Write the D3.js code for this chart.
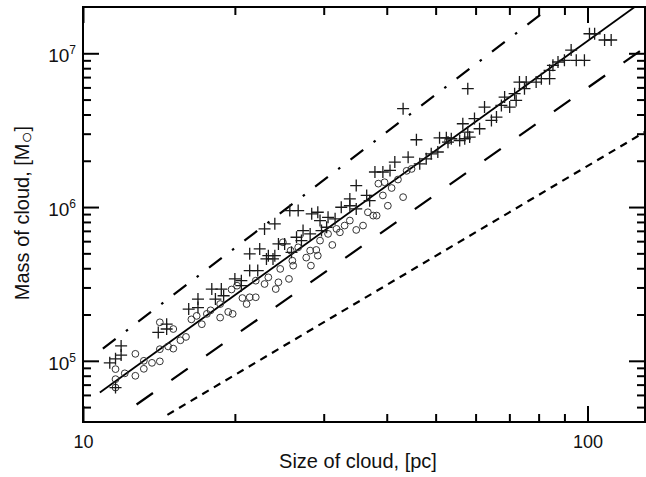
<!DOCTYPE html>
<html>
<head>
<meta charset="utf-8">
<script src="https://cdnjs.cloudflare.com/ajax/libs/d3/7.8.5/d3.min.js"></script>
<style>
  body { margin: 0; background: #fff; }
  text { font-family: "Liberation Sans", Arial, sans-serif; fill: #111; }
</style>
</head>
<body>
<div id="chart"></div>
<script>

// size of cloud [pc], mass of cloud [Msun]
var crossData = [
  [11.3, 9.7e4], [11.6, 1.03e5], [11.9, 1.25e5], [11.9, 1.09e5], [11.6, 6.7e4],
  [14.1, 1.53e5], [14.65, 1.73e5], [14.65, 1.61e5], [16.2, 2.17e5], [16.9, 2.52e5],
  [16.9, 2.22e5], [18.0, 2.93e5], [18.3, 2.52e5], [18.8, 2.93e5], [19.0, 2.65e5],
  [20.0, 3.41e5], [20.6, 3.32e5], [20.6, 3.08e5], [21.4, 3.86e5], [22.2, 3.86e5],
  [21.4, 4.96e5], [22.4, 5.34e5], [23.1, 4.6e5], [23.8, 4.6e5], [22.9, 7.21e5],
  [24.0, 7.78e5], [24.4, 5.76e5], [25.1, 5.76e5], [26.5, 6.36e5], [25.7, 9.49e5],
  [26.7, 9.49e5], [28.4, 9.03e5], [29.2, 9.25e5], [29.5, 8.17e5], [30.6, 8.58e5],
  [30.4, 7.39e5], [31.6, 8.38e5], [32.5, 9.97e5], [33.8, 1.13e6], [33.8, 1.02e6],
  [34.8, 9.73e5], [34.8, 1.38e6], [36.5, 1.19e6], [37.0, 1.10e6], [37.9, 1.69e6],
  [39.3, 1.69e6], [27.3, 7.03e5], [28.2, 6.69e5], [27.1, 6.05e5], [23.3, 4.83e5],
  [24.0, 4.83e5], [25.9, 5.08e5], [29.7, 7.03e5], [43.1, 4.36e6], [57.9, 5.89e6],
  [45.8, 2.74e6], [44.1, 2.11e6], [41.5, 1.96e6], [40.6, 1.73e6], [47.9, 2.06e6],
  [49.0, 2.22e6], [50.5, 2.28e6], [50.9, 2.82e6], [52.5, 2.82e6], [53.7, 2.78e6],
  [55.8, 2.71e6], [57.1, 2.78e6], [56.6, 3.48e6], [59.7, 3.76e6], [57.9, 3.07e6],
  [46.5, 1.91e6], [61.1, 3.23e6], [62.5, 4.47e6], [64.5, 3.66e6], [66.0, 3.85e6],
  [67.5, 4.58e6], [68.5, 5.19e6], [70.1, 4.47e6], [72.2, 4.94e6], [71.7, 5.46e6],
  [73.3, 6.5e6], [75.6, 6.5e6], [75.0, 5.89e6], [79.1, 6.5e6], [81.0, 6.84e6],
  [84.1, 6.84e6], [84.1, 7.75e6], [85.4, 8.35e6], [87.4, 8.78e6], [90.0, 9.0e6],
  [92.8, 1.05e7], [95.0, 9.0e6], [98.6, 9.0e6], [100.9, 1.34e7], [103.3, 1.34e7],
  [108.1, 1.22e7], [111.4, 1.22e7], [58.4, 2.85e6], [52.9, 2.64e6]
];

var circleData = [
  [11.6, 8.83e4], [11.6, 7.6e4], [11.6, 6.7e4], [12.1, 8.29e4], [12.7, 1.11e5],
  [12.7, 7.99e4], [13.2, 1.0e5], [13.2, 8.87e4], [13.7, 9.7e4], [14.2, 9.92e4],
  [14.2, 1.78e5], [14.2, 1.19e5], [14.75, 1.24e5], [15.1, 1.61e5], [15.1, 1.2e5],
  [15.6, 1.36e5], [16.0, 1.43e5], [16.4, 1.86e5], [16.8, 1.96e5], [17.2, 1.73e5],
  [17.6, 2.02e5], [17.9, 2.13e5], [18.7, 1.91e5], [18.7, 2.34e5], [19.4, 2.08e5],
  [19.8, 2.02e5], [19.7, 2.91e5], [20.2, 3.08e5], [20.7, 2.56e5], [21.1, 2.34e5],
  [21.4, 2.59e5], [22.0, 2.59e5], [22.0, 3.32e5], [22.9, 3.16e5], [23.3, 3.49e5],
  [24.1, 2.93e5], [24.4, 3.24e5], [24.6, 3.96e5], [25.6, 3.41e5], [26.0, 4.48e5],
  [26.1, 4.16e5], [24.9, 5.9e5], [25.8, 5.21e5], [26.7, 5.47e5], [28.2, 5.21e5],
  [29.0, 5.26e5], [29.2, 4.83e5], [29.5, 6.05e5], [30.6, 6.69e5], [31.2, 5.67e5],
  [31.8, 7.21e5], [32.3, 6.85e5], [33.0, 7.58e5], [33.8, 8.17e5], [34.8, 7.1e5],
  [35.9, 7.58e5], [36.7, 9.25e5], [37.6, 8.8e5], [38.2, 8.8e5], [38.5, 1.42e6],
  [39.3, 1.19e6], [40.2, 1.02e6], [39.6, 1.45e6], [40.9, 1.33e6], [42.1, 1.51e6],
  [43.8, 1.72e6], [44.8, 1.77e6], [52.9, 2.71e6], [43.1, 1.16e6], [27.7, 4.69e5],
  [28.3, 4.16e5]
];

// fitted relations, end points
var fitSolid = [[10.8, 6.22e4], [124, 2.0e7]];
var fitDashDot = [[10.95, 1.2e5], [84.5, 2.0e7]];
var fitLongDash = [[12.77, 5.2e4], [130, 1.09e7]];
var fitShortDash = [[14.7, 4.45e4], [130, 3.08e6]];

var xMajorTicks = [10, 100];
var xMinorTicks = [20, 30, 40, 50, 60, 70, 80, 90];
var yMajorTicks = [1e5, 1e6, 1e7];
var yMajorExponents = ["5", "6", "7"];
var yMinorTicks = [5e4, 6e4, 7e4, 8e4, 9e4,
  2e5, 3e5, 4e5, 5e5, 6e5, 7e5, 8e5, 9e5,
  2e6, 3e6, 4e6, 5e6, 6e6, 7e6, 8e6, 9e6];

var svgWidth = 646;
var svgHeight = 477;

var margin = { top: 7, right: 1, bottom: 55, left: 83 };
var width = svgWidth - margin.left - margin.right;
var height = svgHeight - margin.top - margin.bottom;

var svg = d3.select("#chart")
  .append("svg")
  .attr("width", svgWidth)
  .attr("height", svgHeight);

var chartGroup = svg.append("g")
  .attr("transform", `translate(${margin.left}, ${margin.top})`);

var xLogScale = d3.scaleLog().domain([10, 130]).range([0, width]);
var yLogScale = d3.scaleLog().domain([4e4, 2e7]).range([height, 0]);

svg.append("defs").append("clipPath")
  .attr("id", "plotClip")
  .append("rect")
  .attr("width", width)
  .attr("height", height);

function styleTicks(g) {
  g.select(".domain").remove();
  g.selectAll(".tick line").attr("stroke", "#000").attr("stroke-width", 2);
}

// ticks on all four sides, pointing inward
chartGroup.append("g")
  .attr("transform", `translate(0, ${height})`)
  .call(d3.axisBottom(xLogScale).tickValues(xMajorTicks).tickSize(-16)
    .tickPadding(13).tickFormat(d3.format("d")))
  .call(styleTicks)
  .selectAll("text")
  .style("font-size", "18px")
  .style("font-family", "Liberation Sans, Arial, sans-serif")
  .attr("fill", "#111");

chartGroup.append("g")
  .attr("transform", `translate(0, ${height})`)
  .call(d3.axisBottom(xLogScale).tickValues(xMinorTicks).tickSize(-8).tickFormat(""))
  .call(styleTicks);

chartGroup.append("g")
  .call(d3.axisTop(xLogScale).tickValues(xMajorTicks).tickSize(-16).tickFormat(""))
  .call(styleTicks);

chartGroup.append("g")
  .call(d3.axisTop(xLogScale).tickValues(xMinorTicks).tickSize(-8).tickFormat(""))
  .call(styleTicks);

chartGroup.append("g")
  .call(d3.axisLeft(yLogScale).tickValues(yMajorTicks).tickSize(-16).tickFormat(""))
  .call(styleTicks);

chartGroup.append("g")
  .call(d3.axisLeft(yLogScale).tickValues(yMinorTicks).tickSize(-8).tickFormat(""))
  .call(styleTicks);

chartGroup.append("g")
  .attr("transform", `translate(${width}, 0)`)
  .call(d3.axisRight(yLogScale).tickValues(yMajorTicks).tickSize(-16).tickFormat(""))
  .call(styleTicks);

chartGroup.append("g")
  .attr("transform", `translate(${width}, 0)`)
  .call(d3.axisRight(yLogScale).tickValues(yMinorTicks).tickSize(-8).tickFormat(""))
  .call(styleTicks);

// y tick labels as 10 with superscript exponent
var yLabels = chartGroup.selectAll(".yLabel")
  .data(yMajorTicks)
  .enter()
  .append("text")
  .attr("class", "yLabel")
  .attr("x", -7)
  .attr("y", d => yLogScale(d) + 9)
  .attr("text-anchor", "end")
  .style("font-size", "19px");

yLabels.append("tspan").text("10");
yLabels.append("tspan")
  .attr("dy", -8)
  .style("font-size", "12px")
  .text((d, i) => yMajorExponents[i]);

var plotGroup = chartGroup.append("g").attr("clip-path", "url(#plotClip)");

var fitLine = d3.line()
  .x(d => xLogScale(d[0]))
  .y(d => yLogScale(d[1]));

plotGroup.append("path")
  .datum(fitShortDash)
  .attr("d", fitLine)
  .attr("fill", "none")
  .attr("stroke", "#000")
  .attr("stroke-width", 2.2)
  .attr("stroke-dasharray", "7.5,6");

plotGroup.append("path")
  .datum(fitLongDash)
  .attr("d", fitLine)
  .attr("fill", "none")
  .attr("stroke", "#000")
  .attr("stroke-width", 2.2)
  .attr("stroke-dasharray", "20,22.5");

plotGroup.append("path")
  .datum(fitDashDot)
  .attr("d", fitLine)
  .attr("fill", "none")
  .attr("stroke", "#000")
  .attr("stroke-width", 2.2)
  .attr("stroke-dasharray", "16,13,2.5,13");

plotGroup.append("path")
  .datum(fitSolid)
  .attr("d", fitLine)
  .attr("fill", "none")
  .attr("stroke", "#000")
  .attr("stroke-width", 1.8);

plotGroup.selectAll(".circlePoint")
  .data(circleData)
  .enter()
  .append("circle")
  .attr("class", "circlePoint")
  .attr("cx", d => xLogScale(d[0]))
  .attr("cy", d => yLogScale(d[1]))
  .attr("r", 3.4)
  .attr("fill", "none")
  .attr("stroke", "#333")
  .attr("stroke-width", 1);

plotGroup.selectAll(".crossPoint")
  .data(crossData)
  .enter()
  .append("path")
  .attr("class", "crossPoint")
  .attr("transform", d => `translate(${xLogScale(d[0])}, ${yLogScale(d[1])})`)
  .attr("d", "M-6,0H6M0,-6V6")
  .attr("fill", "none")
  .attr("stroke", "#1a1a1a")
  .attr("stroke-width", 1.3);

// frame
chartGroup.append("rect")
  .attr("width", width)
  .attr("height", height)
  .attr("fill", "none")
  .attr("stroke", "#000")
  .attr("stroke-width", 2);

// axis titles
svg.append("text")
  .attr("x", 358)
  .attr("y", 468)
  .attr("text-anchor", "middle")
  .style("font-size", "20px")
  .text("Size of cloud, [pc]");

var yTitle = svg.append("text")
  .attr("transform", "translate(29, 213) rotate(-90)")
  .attr("text-anchor", "middle")
  .style("font-size", "20px");

yTitle.append("tspan").text("Mass of cloud, [M");
yTitle.append("tspan").attr("dy", 4).style("font-size", "20px").text("\u25CB");
yTitle.append("tspan").attr("dy", -4).text("]");

</script>
</body>
</html>
